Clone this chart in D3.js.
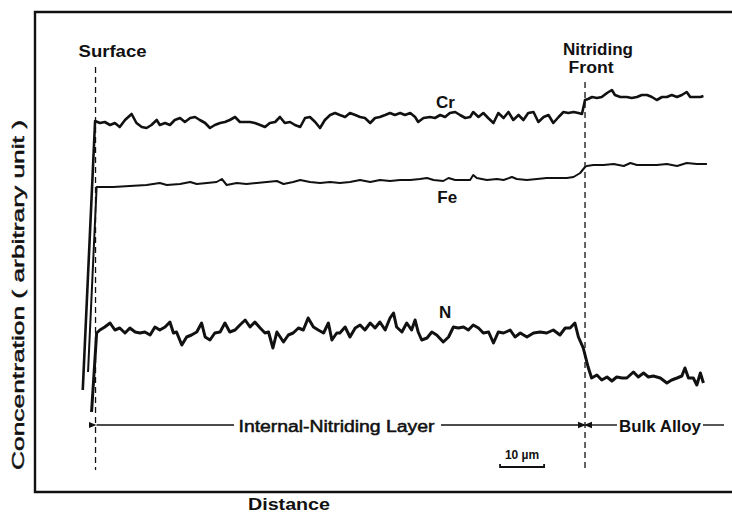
<!DOCTYPE html>
<html>
<head>
<meta charset="utf-8">
<script src="https://cdn.jsdelivr.net/npm/d3@7"></script>
<style>
  body { margin: 0; background: #fff; }
  svg { display: block; }
  text { font-family: "Liberation Sans", Arial, sans-serif; fill: #111; }
</style>
</head>
<body>
<div id="chart"></div>
<script>
// line-scan profiles, [distance (um), concentration (arbitrary unit)]
const crProfile = [
  [-2.9, 10.2], [-0.1, 37.1], [1.0, 36.9], [2.1, 37.0], [3.3, 36.7], [4.4, 36.9], [5.5, 36.5],
  [6.7, 37.2], [8.2, 37.8], [9.3, 36.9], [10.5, 36.5], [11.6, 36.4], [12.7, 36.7], [13.9, 37.2],
  [14.6, 36.7], [15.8, 36.9], [16.9, 36.7], [18.0, 37.2], [19.2, 37.4], [20.3, 37.0], [21.5, 37.4],
  [22.6, 37.5], [23.7, 37.2], [24.9, 36.9], [26.0, 36.4], [27.1, 36.7], [28.3, 36.9], [29.4, 37.0],
  [30.5, 37.2], [31.7, 37.5], [32.8, 37.0], [34.0, 37.0], [35.1, 37.0], [36.2, 36.9], [37.4, 36.7],
  [38.5, 36.5], [39.6, 36.9], [40.8, 37.0], [41.9, 37.5], [43.0, 36.9], [44.2, 37.0], [45.3, 36.7],
  [46.5, 36.5], [47.6, 37.4], [48.7, 37.5], [49.9, 37.0], [51.0, 36.4], [52.1, 37.2], [53.3, 37.7],
  [54.4, 37.9], [55.5, 37.7], [56.7, 37.5], [57.8, 37.9], [59.0, 37.7], [60.1, 37.5], [61.2, 37.4],
  [62.4, 36.9], [63.5, 37.4], [64.6, 37.5], [65.8, 37.7], [66.9, 37.9], [68.0, 37.7], [69.2, 37.9],
  [70.3, 37.7], [71.5, 37.9], [72.6, 37.5], [73.3, 37.0], [74.5, 37.4], [76.0, 37.5], [77.1, 37.4],
  [78.3, 37.7], [79.4, 37.5], [80.5, 37.9], [81.7, 38.0], [82.8, 37.7], [84.0, 37.4], [85.1, 37.5],
  [85.8, 38.0], [87.0, 37.5], [88.1, 37.9], [89.2, 37.4], [90.4, 36.9], [91.5, 37.9], [92.7, 37.4],
  [93.8, 38.0], [94.9, 37.2], [96.1, 37.7], [97.2, 37.2], [98.3, 37.9], [99.5, 38.0], [100.6, 37.0],
  [101.8, 37.5], [102.9, 37.7], [104.0, 36.9], [105.2, 37.5], [106.3, 38.0], [107.4, 37.9],
  [108.6, 38.0], [109.7, 37.9], [110.5, 37.8], [111.2, 39.2], [111.9, 39.3], [112.8, 39.5],
  [113.9, 39.4], [115.0, 39.5], [116.2, 39.9], [117.3, 40.2], [118.0, 39.7], [119.2, 39.5],
  [120.7, 39.5], [121.8, 39.4], [123.0, 39.5], [124.1, 39.7], [125.3, 39.7], [126.4, 39.5],
  [127.5, 39.2], [128.7, 39.5], [129.8, 39.5], [130.9, 39.7], [132.1, 39.5], [133.2, 39.7],
  [134.3, 40.0], [135.1, 39.5], [136.2, 39.5], [137.4, 39.5], [138.1, 39.6]
];

const feProfile = [
  [-1.7, 12.0], [0.25, 30.5], [1.0, 30.5], [4.0, 30.5], [7.8, 30.6], [11.6, 30.7], [14.6, 30.9],
  [16.2, 30.7], [19.2, 30.8], [21.5, 31.0], [23.0, 30.8], [25.3, 30.9], [27.5, 31.0], [28.7, 31.3],
  [29.8, 30.7], [32.1, 30.9], [34.3, 30.8], [36.6, 30.9], [38.9, 31.0], [41.2, 31.1], [42.7, 30.8],
  [44.9, 31.0], [46.5, 31.2], [48.7, 31.0], [51.0, 30.9], [53.3, 31.0], [55.5, 30.9], [57.8, 31.0],
  [60.1, 31.2], [62.4, 31.0], [64.6, 31.2], [66.9, 31.1], [69.2, 31.2], [71.5, 31.2], [73.7, 31.3],
  [75.3, 31.4], [76.8, 31.2], [79.0, 31.1], [80.2, 31.4], [81.7, 31.2], [83.6, 31.2], [85.1, 31.2],
  [85.8, 31.7], [86.6, 31.4], [88.9, 31.2], [91.2, 31.3], [92.7, 31.2], [94.6, 31.5], [95.7, 31.3],
  [98.0, 31.2], [100.3, 31.3], [102.5, 31.4], [104.8, 31.4], [107.1, 31.4], [108.6, 31.5],
  [110.1, 31.9], [111.2, 32.5], [111.6, 32.6], [113.1, 32.7], [115.4, 32.7], [117.7, 32.8],
  [120.0, 32.6], [121.5, 32.9], [123.0, 32.7], [125.3, 32.7], [127.5, 32.7], [129.8, 32.8],
  [132.1, 32.6], [134.3, 32.9], [136.6, 32.8], [138.9, 32.8]
];

const nProfile = [
  [-0.9, 8.0], [0.25, 15.9], [1.0, 16.2], [2.1, 16.5], [3.3, 16.9], [4.4, 16.2], [5.5, 16.4],
  [6.7, 15.9], [7.8, 16.4], [9.0, 16.0], [10.1, 15.9], [11.2, 16.0], [12.4, 15.7], [13.5, 16.5],
  [14.6, 16.2], [15.8, 16.5], [16.9, 17.0], [17.7, 15.9], [18.4, 16.0], [19.6, 14.7], [20.7, 15.5],
  [21.8, 15.7], [23.0, 16.0], [24.1, 16.9], [24.9, 15.5], [26.0, 15.2], [27.1, 15.9], [28.3, 16.0],
  [29.4, 16.9], [30.5, 16.0], [31.7, 16.2], [32.8, 16.7], [34.0, 17.2], [35.1, 16.5], [36.2, 17.0],
  [37.4, 16.4], [38.5, 15.9], [39.3, 16.0], [40.3, 14.4], [41.2, 16.0], [42.7, 15.0], [43.8, 15.7],
  [44.9, 15.9], [46.1, 16.4], [47.2, 16.2], [48.3, 17.4], [49.5, 16.5], [50.6, 16.2], [51.8, 15.9],
  [52.9, 16.9], [53.7, 15.2], [54.8, 15.9], [55.5, 15.9], [56.7, 16.5], [57.8, 15.5], [59.0, 16.4],
  [60.1, 16.7], [61.2, 16.2], [62.4, 16.9], [63.5, 16.4], [64.6, 17.0], [65.8, 16.2], [66.9, 17.4],
  [67.7, 17.9], [68.4, 16.5], [69.6, 16.0], [70.7, 16.9], [71.8, 16.2], [72.6, 17.2], [73.3, 16.0],
  [74.1, 15.2], [75.3, 15.4], [76.4, 16.0], [77.5, 15.7], [79.0, 15.0], [80.2, 15.5], [81.3, 16.5],
  [82.4, 16.4], [83.6, 16.5], [84.7, 16.2], [85.8, 16.7], [87.0, 16.4], [88.1, 15.9], [89.3, 16.0],
  [90.4, 14.9], [91.5, 16.0], [92.7, 15.9], [94.2, 16.2], [95.3, 15.5], [96.5, 15.9], [98.0, 15.5],
  [99.5, 15.9], [101.0, 16.0], [102.5, 15.9], [104.0, 16.2], [105.5, 15.7], [106.7, 16.4],
  [107.8, 16.4], [108.9, 16.9], [109.7, 15.5], [110.8, 14.4], [111.9, 12.5], [112.7, 11.4],
  [113.9, 11.7], [115.0, 11.2], [116.2, 11.5], [117.3, 11.1], [118.4, 11.5], [119.6, 11.4],
  [120.7, 11.4], [122.2, 12.0], [123.3, 11.5], [124.5, 11.9], [125.6, 11.5], [126.7, 11.6],
  [128.3, 11.4], [129.8, 10.9], [130.9, 11.2], [132.1, 11.4], [133.2, 11.6], [133.9, 12.4],
  [134.7, 11.4], [135.8, 11.4], [136.6, 10.7], [137.4, 11.9], [138.1, 10.9]
];

const elementNames = ["Cr", "Fe", "N"];
const elementLabelAt = [[79.5, 39.0], [79.9, 29.5], [79.4, 18.0]];

const surfaceAt = 0;        // um
const frontAt = 111.2;      // um
const scaleBarFrom = 91.9;  // 10 um bar
const scaleBarTo = 101.9;

const width = 732, height = 513;
const plot = { left: 35, right: 725, top: 12, bottom: 492 };

const x = d3.scaleLinear().domain([-13.75, 143]).range([plot.left, plot.right]);
const y = d3.scaleLinear().domain([0, 48]).range([plot.bottom, plot.top]);

const svg = d3.select("#chart").append("svg")
  .attr("width", width)
  .attr("height", height);

svg.append("rect").attr("width", width).attr("height", height).attr("fill", "#fff");

const defs = svg.append("defs");
defs.append("marker")
  .attr("id", "head")
  .attr("viewBox", "0 -4 8 8")
  .attr("refX", 0).attr("refY", 0)
  .attr("markerWidth", 8).attr("markerHeight", 8)
  .attr("markerUnits", "userSpaceOnUse")
  .attr("orient", "auto-start-reverse")
  .append("path")
  .attr("d", "M0,0L8,-3.2L8,3.2Z")
  .attr("fill", "#111");

// frame (open on the right like the scan)
svg.append("path")
  .attr("d", `M${width},${plot.top}H${plot.left}V${plot.bottom}H${width}`)
  .attr("fill", "none")
  .attr("stroke", "#111")
  .attr("stroke-width", 2.4);

// surface / nitriding front
svg.append("line")
  .attr("x1", x(surfaceAt)).attr("x2", x(surfaceAt))
  .attr("y1", y(42.5)).attr("y2", y(2.2))
  .attr("stroke", "#111").attr("stroke-width", 1.3)
  .attr("stroke-dasharray", "6,4");

svg.append("line")
  .attr("x1", x(frontAt)).attr("x2", x(frontAt))
  .attr("y1", y(41.0)).attr("y2", y(2.4))
  .attr("stroke", "#111").attr("stroke-width", 1.3)
  .attr("stroke-dasharray", "6,4");

// profiles
const line = d3.line().x(d => x(d[0])).y(d => y(d[1]));
const series = [
  { data: crProfile, w: 2.6 },
  { data: feProfile, w: 2.0 },
  { data: nProfile, w: 3.0 }
];
svg.append("g")
  .selectAll("path")
  .data(series)
  .join("path")
  .attr("d", s => line(s.data))
  .attr("fill", "none")
  .attr("stroke", "#111")
  .attr("stroke-width", s => s.w)
  .attr("stroke-linejoin", "round");

svg.append("g")
  .selectAll("text")
  .data(elementNames)
  .join("text")
  .attr("x", (d, i) => x(elementLabelAt[i][0]))
  .attr("y", (d, i) => y(elementLabelAt[i][1]))
  .attr("text-anchor", "middle")
  .attr("dominant-baseline", "central")
  .attr("font-size", 17)
  .attr("font-weight", "bold")
  .text(d => d);

// top annotations
svg.append("text")
  .attr("x", x(surfaceAt) + 17).attr("y", 57)
  .attr("text-anchor", "middle")
  .attr("font-size", 16).attr("font-weight", "bold")
  .attr("textLength", 68).attr("lengthAdjust", "spacingAndGlyphs")
  .text("Surface");

svg.append("text")
  .attr("x", x(frontAt) + 13).attr("y", 55)
  .attr("text-anchor", "middle")
  .attr("font-size", 16).attr("font-weight", "bold")
  .attr("textLength", 70).attr("lengthAdjust", "spacingAndGlyphs")
  .text("Nitriding");

svg.append("text")
  .attr("x", x(frontAt) + 6).attr("y", 73)
  .attr("text-anchor", "middle")
  .attr("font-size", 16).attr("font-weight", "bold")
  .attr("textLength", 45).attr("lengthAdjust", "spacingAndGlyphs")
  .text("Front");

// layer arrows
const rowY = y(6.7);
svg.append("line")
  .attr("x1", x(surfaceAt) + 1).attr("x2", 234)
  .attr("y1", rowY).attr("y2", rowY)
  .attr("stroke", "#111").attr("stroke-width", 1.4)
  .attr("marker-start", "url(#head)");
svg.append("text")
  .attr("x", 336.5).attr("y", rowY + 1)
  .attr("dominant-baseline", "central")
  .attr("text-anchor", "middle")
  .attr("font-size", 16)
  .attr("stroke", "#111").attr("stroke-width", 0.5)
  .attr("textLength", 196).attr("lengthAdjust", "spacingAndGlyphs")
  .text("Internal-Nitriding Layer");
svg.append("line")
  .attr("x1", 441).attr("x2", x(frontAt) - 1)
  .attr("y1", rowY).attr("y2", rowY)
  .attr("stroke", "#111").attr("stroke-width", 1.4)
  .attr("marker-end", "url(#head)");
svg.append("line")
  .attr("x1", x(frontAt) + 1).attr("x2", 617)
  .attr("y1", rowY).attr("y2", rowY)
  .attr("stroke", "#111").attr("stroke-width", 1.4)
  .attr("marker-start", "url(#head)");
svg.append("text")
  .attr("x", 660).attr("y", rowY + 1)
  .attr("dominant-baseline", "central")
  .attr("text-anchor", "middle")
  .attr("font-size", 16).attr("font-weight", "bold")
  .attr("textLength", 82).attr("lengthAdjust", "spacingAndGlyphs")
  .text("Bulk Alloy");
svg.append("line")
  .attr("x1", 703).attr("x2", 724)
  .attr("y1", rowY).attr("y2", rowY)
  .attr("stroke", "#111").attr("stroke-width", 1.4);

// scale bar
const barY = y(2.5);
svg.append("path")
  .attr("d", `M${x(scaleBarFrom)},${barY - 3}V${barY}H${x(scaleBarTo)}V${barY - 3}`)
  .attr("fill", "none").attr("stroke", "#111").attr("stroke-width", 1.8);
svg.append("text")
  .attr("x", (x(scaleBarFrom) + x(scaleBarTo)) / 2).attr("y", barY - 8)
  .attr("text-anchor", "middle")
  .attr("font-size", 12).attr("font-weight", "bold")
  .text("10 µm");

// axis titles
svg.append("text")
  .attr("x", 248).attr("y", 510)
  .attr("font-size", 16).attr("font-weight", "bold")
  .attr("textLength", 82).attr("lengthAdjust", "spacingAndGlyphs")
  .text("Distance");

svg.append("text")
  .attr("transform", `translate(24,${(120 + 470) / 2}) rotate(-90)`)
  .attr("text-anchor", "middle")
  .attr("font-size", 16)
  .attr("stroke", "#111").attr("stroke-width", 0.45)
  .attr("textLength", 350).attr("lengthAdjust", "spacingAndGlyphs")
  .text("Concentration  ( arbitrary  unit )");
</script>
</body>
</html>
